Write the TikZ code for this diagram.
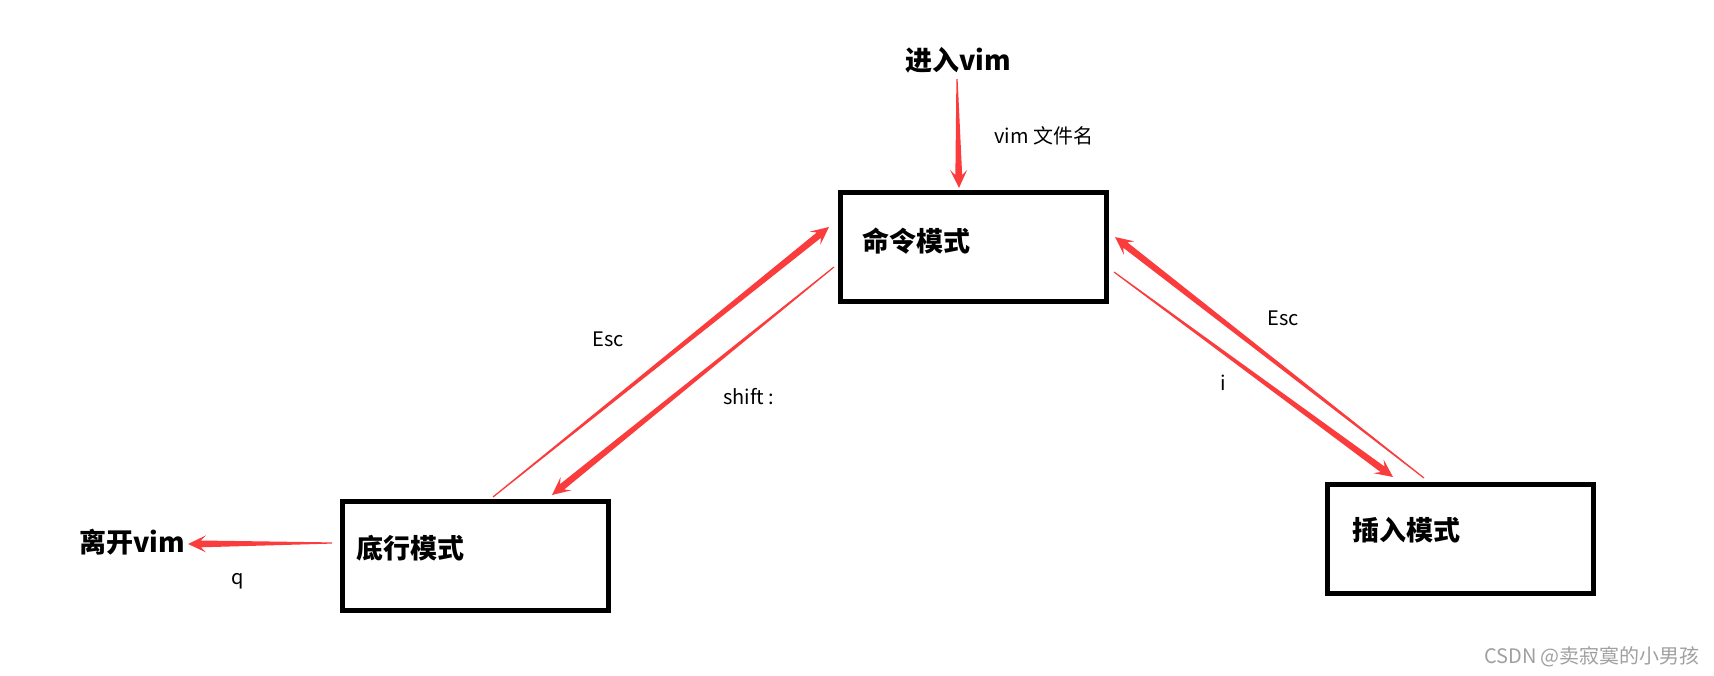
\documentclass[tikz,border=0pt]{standalone}
\usepackage{fontspec}
\usepackage{tikz}
\usetikzlibrary{calc}
\newfontfamily\cjk{Noto Sans CJK SC}
\definecolor{arrowred}{RGB}{250,60,60}
\definecolor{markgray}{RGB}{160,160,160}
\newcommand{\taperarrow}[2]{%
  \path (#2) coordinate (tipT) ($(#2)!18pt!(#1)$) coordinate (backT) ($(#2)!13pt!(#1)$) coordinate (neckT);
  \fill[arrowred] ($(#1)!0.6pt!90:(#2)$) -- ($(neckT)!3.4pt!-90:(#1)$) -- ($(backT)!8.5pt!-90:(#1)$) -- (tipT)
    -- ($(backT)!8.5pt!90:(#1)$) -- ($(neckT)!3.4pt!90:(#1)$) -- ($(#1)!0.6pt!-90:(#2)$) -- cycle;
}

\begin{document}
\begin{tikzpicture}[x=1pt,y=-1pt]
\tikzstyle{modebox}=[draw,line width=5pt,minimum width=266pt,minimum height=109pt,inner sep=0pt]
\tikzstyle{modetext}=[anchor=west,inner sep=0pt,font=\cjk\bfseries\fontsize{27}{30}\selectfont]
\tikzstyle{endtext}=[inner sep=0pt,font=\cjk\bfseries\fontsize{27}{30}\selectfont]
\tikzstyle{keytext}=[inner sep=0pt,font=\cjk\fontsize{20}{24}\selectfont]
\useasboundingbox (0,0) rectangle (1714,676);

\node[modebox] (cmd) at (973,247.5) {};
\node[modebox] (bottom) at (475,555.5) {};
\node[modebox] (insert) at (1460,538.5) {};
\node[modetext] (cmdtext) at (862,241) {命令模式};
\node[modetext] (bottomtext) at (356,548) {底行模式};
\node[modetext] (inserttext) at (1352,530) {插入模式};
\node[endtext] (enter) at (958,60) {进入vim};
\node[endtext] (leave) at (132,542) {离开vim};

\coordinate (enterS) at (957,79);
\coordinate (enterT) at (959,188);
\coordinate (shiftS) at (834,267);
\coordinate (shiftT) at (552,495);
\coordinate (escLS) at (493,497);
\coordinate (escLT) at (829,227);
\coordinate (iS) at (1114,272);
\coordinate (iT) at (1393,477);
\coordinate (escRS) at (1424,478);
\coordinate (escRT) at (1115,237);
\coordinate (qS) at (332,543);
\coordinate (qT) at (188,544);

\taperarrow{enterS}{enterT}
\taperarrow{shiftS}{shiftT}
\taperarrow{escLS}{escLT}
\taperarrow{iS}{iT}
\taperarrow{escRS}{escRT}
\taperarrow{qS}{qT}

\node[keytext] (filename) at (1044,136) {vim 文件名};
\node[keytext] (escL) at (608,339) {Esc};
\node[keytext] (shift) at (749,397) {shift :};
\node[keytext] (escR) at (1283,318) {Esc};
\node[keytext] (ikey) at (1223,383) {i};
\node[keytext] (qkey) at (238,581) {q};
\node[keytext,text=markgray] (mark) at (1592,657) {CSDN @卖寂寞的小男孩};
\end{tikzpicture}
\end{document}
